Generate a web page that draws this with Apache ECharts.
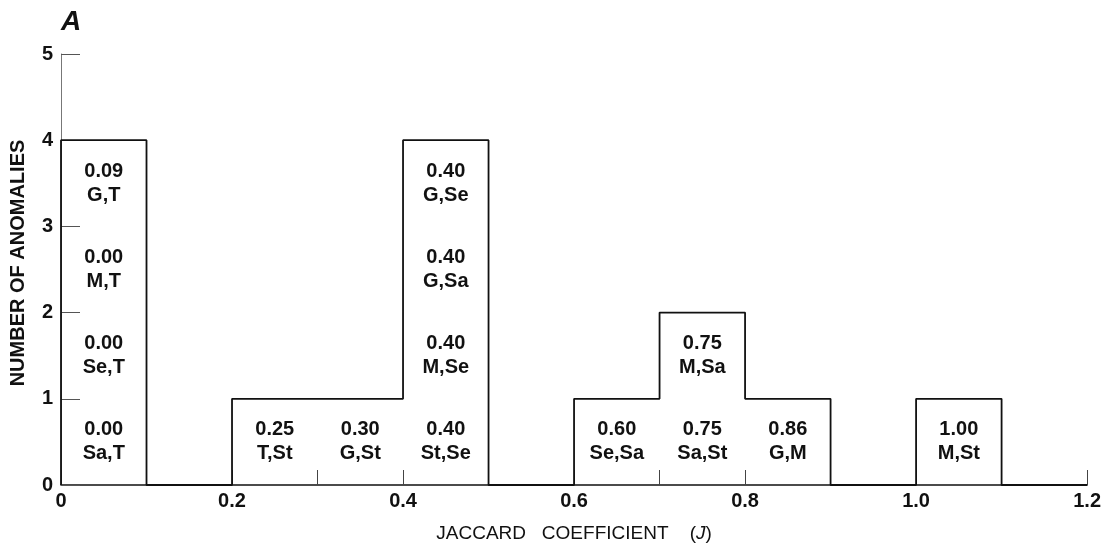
<!DOCTYPE html>
<html>
<head>
<meta charset="utf-8">
<script src="https://cdn.jsdelivr.net/npm/echarts@6/dist/echarts.min.js"></script>
<style>html,body{margin:0;padding:0;background:#fff}#c{width:1104px;height:550px}</style>
</head>
<body>
<div id="c"></div>
<script>
// Histogram bins (lower edges) and counts
var binEdges = [0, 0.1, 0.2, 0.3, 0.4, 0.5, 0.6, 0.7, 0.8, 0.9, 1.0, 1.1, 1.2];
var binCounts = [4, 0, 1, 1, 4, 0, 1, 2, 1, 0, 1, 0];
// Annotations: bin center, stack slot (0 = bottom), coefficient, pair
var annBin   = [0.05, 0.05, 0.05, 0.05, 0.25, 0.35, 0.45, 0.45, 0.45, 0.45, 0.65, 0.75, 0.75, 0.85, 1.05];
var annSlot  = [3, 2, 1, 0, 0, 0, 3, 2, 1, 0, 0, 1, 0, 0, 0];
var annValue = ['0.09', '0.00', '0.00', '0.00', '0.25', '0.30', '0.40', '0.40', '0.40', '0.40', '0.60', '0.75', '0.75', '0.86', '1.00'];
var annPair  = ['G,T', 'M,T', 'Se,T', 'Sa,T', 'T,St', 'G,St', 'G,Se', 'G,Sa', 'M,Se', 'St,Se', 'Se,Sa', 'M,Sa', 'Sa,St', 'G,M', 'M,St'];
var yTicks = [0, 1, 2, 3, 4, 5];

// Build the step outline from the bins
var outline = [[binEdges[0], 0]];
var prev = 0;
for (var i = 0; i < binCounts.length; i++) {
  if (binCounts[i] !== prev) outline.push([binEdges[i], binCounts[i]]);
  outline.push([binEdges[i + 1], binCounts[i]]);
  prev = binCounts[i];
}
var annData = annBin.map(function (x, k) {
  return { value: [x, annSlot[k] + 0.5], txt: annValue[k] + '\n' + annPair[k] };
});

var FONT = '"Liberation Sans", Arial, Helvetica, sans-serif';
var chart = echarts.init(document.getElementById('c'));
chart.setOption({
  animation: false,
  backgroundColor: '#ffffff',
  title: {
    text: 'A', left: 56, top: 3,
    textStyle: { fontFamily: FONT, fontSize: 28, fontStyle: 'italic', fontWeight: 'bold', color: '#111' }
  },
  graphic: [{
    type: 'text', x: 18, y: 263, rotation: Math.PI / 2,
    style: {
      text: 'NUMBER OF ANOMALIES', fill: '#111', font: 'bold 20px ' + FONT,
      align: 'center', verticalAlign: 'middle'
    }
  }],
  grid: { left: 61, right: 16, top: 54, bottom: 65, containLabel: false },
  xAxis: {
    type: 'value', min: 0, max: 1.2, interval: 0.1,
    axisLine: { show: true, lineStyle: { color: '#111', width: 1.6 } },
    axisTick: { show: true, inside: true, length: 15, lineStyle: { color: '#444', width: 1 } },
    splitLine: { show: false },
    axisLabel: {
      margin: 6, color: '#111', fontFamily: FONT, fontSize: 20, fontWeight: 'bold',
      formatter: function (v) {
        var t = Math.round(v * 10);
        if (t % 2 !== 0) return '';
        if (t === 0) return '0';
        return (t / 10).toFixed(1);
      }
    },
    name: 'JACCARD   COEFFICIENT    ({i|J})',
    nameLocation: 'middle', nameGap: 39,
    nameTextStyle: {
      color: '#111', fontFamily: FONT, fontSize: 19,
      rich: { i: { fontStyle: 'italic', fontFamily: FONT, fontSize: 19, color: '#111' } }
    }
  },
  yAxis: {
    type: 'value', min: 0, max: 5, interval: 1,
    axisLine: { show: true, lineStyle: { color: '#777', width: 1 } },
    axisTick: { show: true, inside: true, length: 19, lineStyle: { color: '#555', width: 1 } },
    splitLine: { show: false },
    axisLabel: {
      margin: 8, color: '#111', fontFamily: FONT, fontSize: 20, fontWeight: 'bold',
      formatter: function (v) { return yTicks.indexOf(v) >= 0 ? String(v) : ''; }
    }
  },
  series: [
    {
      type: 'line', data: outline, symbol: 'none', z: 3,
      lineStyle: { color: '#111', width: 1.8 }
    },
    {
      type: 'scatter', data: annData, symbolSize: 0, z: 4,
      itemStyle: { opacity: 1 },
      label: {
        show: true, position: 'inside',
        formatter: function (p) { return p.data.txt; },
        color: '#111', fontFamily: FONT, fontSize: 20, fontWeight: 'bold', lineHeight: 24, align: 'center'
      }
    }
  ]
});
</script>
</body>
</html>
